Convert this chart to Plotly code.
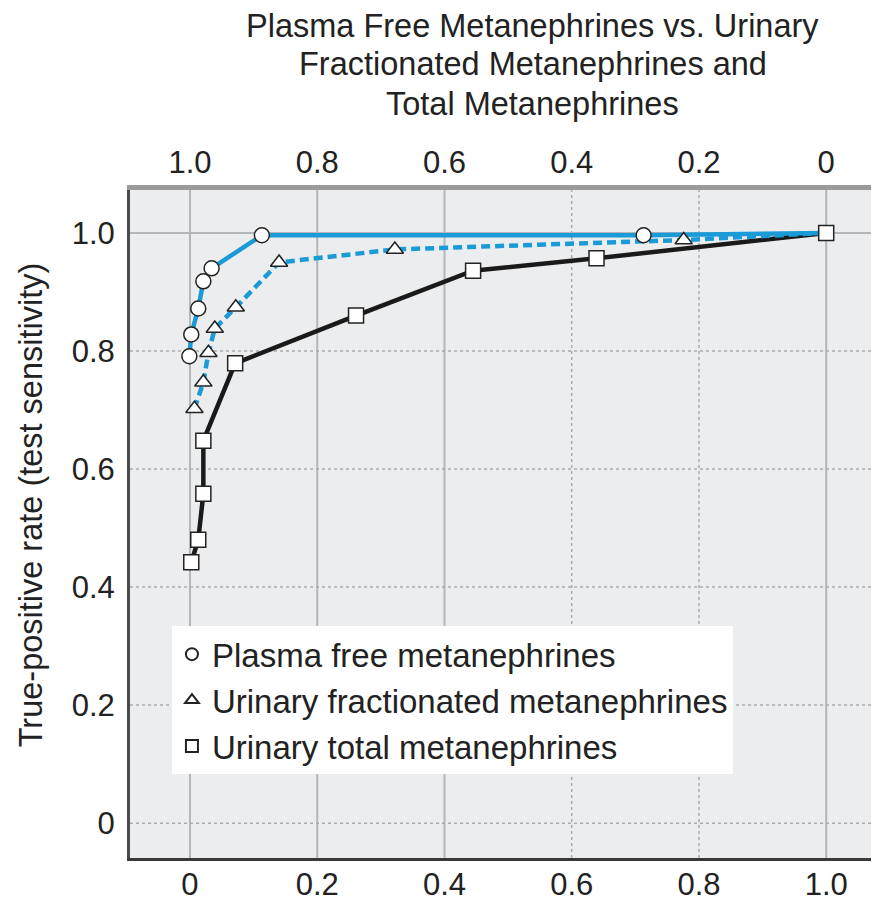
import plotly.graph_objects as go

# ---- data (false-positive rate, true-positive rate) ----
plasma_fpr = [-0.001, 0.002, 0.013, 0.021, 0.034, 0.113, 0.713, 1.0]
plasma_tpr = [0.791, 0.828, 0.872, 0.918, 0.940, 0.996, 0.996, 1.0]

frac_fpr = [0.007, 0.021, 0.029, 0.039, 0.072, 0.140, 0.322, 0.776, 1.0]
frac_tpr = [0.702, 0.747, 0.797, 0.838, 0.874, 0.950, 0.972, 0.988, 1.0]

total_fpr = [0.002, 0.013, 0.021, 0.021, 0.071, 0.261, 0.445, 0.639, 1.0]
total_tpr = [0.442, 0.480, 0.558, 0.648, 0.779, 0.860, 0.936, 0.957, 1.0]

series_names = ["Plasma free metanephrines",
                "Urinary fractionated metanephrines",
                "Urinary total metanephrines"]

x_ticks = [0, 0.2, 0.4, 0.6, 0.8, 1.0]
x_ticktext = ["0", "0.2", "0.4", "0.6", "0.8", "1.0"]
top_ticktext = ["1.0", "0.8", "0.6", "0.4", "0.2", "0"]
y_ticks = [0, 0.2, 0.4, 0.6, 0.8, 1.0]
y_ticktext = ["0", "0.2", "0.4", "0.6", "0.8", "1.0"]

x_grid_dash = ["solid", "solid", "solid", "dot", "dot", "solid"]
y_grid_dash = ["dot", "dot", "dot", "dot", "dot", "solid"]

title_lines = ["Plasma Free Metanephrines vs. Urinary",
               "Fractionated Metanephrines and",
               "Total Metanephrines"]
title_line_y = [1.2455, 1.1886, 1.1287]   # paper y of each title line
ytitle_text = "True-positive rate (test sensitivity)"

# ---- style ----
BLUE = "#1a9ad6"
FONT = "Liberation Sans, Arial, sans-serif"
TXT = "#222222"
FS = 31

fig = go.Figure()

# lines first
fig.add_trace(go.Scatter(x=total_fpr, y=total_tpr, mode="lines",
                         line=dict(color="#1a1a1a", width=4.5),
                         showlegend=False, hoverinfo="skip"))
fig.add_trace(go.Scatter(x=frac_fpr, y=frac_tpr, mode="lines",
                         line=dict(color=BLUE, width=4.5, dash="9px,5px"),
                         showlegend=False, hoverinfo="skip"))
fig.add_trace(go.Scatter(x=plasma_fpr, y=plasma_tpr, mode="lines",
                         line=dict(color=BLUE, width=4.5),
                         showlegend=False, hoverinfo="skip"))

# markers on top
mk_line = dict(color="#222222", width=1.5)
fig.add_trace(go.Scatter(x=plasma_fpr[:-1], y=plasma_tpr[:-1], mode="markers",
                         name=series_names[0],
                         marker=dict(symbol="circle", size=15, color="white", line=mk_line)))
fig.add_trace(go.Scatter(x=frac_fpr[:-1], y=frac_tpr[:-1], mode="markers",
                         name=series_names[1],
                         marker=dict(symbol="triangle-up", size=15, color="white", line=mk_line)))
fig.add_trace(go.Scatter(x=total_fpr, y=total_tpr, mode="markers",
                         name=series_names[2],
                         marker=dict(symbol="square", size=15, color="white", line=mk_line)))

# invisible trace to activate top (specificity) axis
fig.add_trace(go.Scatter(x=[1 - v for v in plasma_fpr], y=plasma_tpr, xaxis="x2",
                         mode="markers", marker=dict(opacity=0),
                         showlegend=False, hoverinfo="skip"))

# gridlines as shapes (mixed solid / dotted like the reference)
shapes = []
for v, d in zip(x_ticks, x_grid_dash):
    shapes.append(dict(type="line", xref="x", yref="paper", x0=v, x1=v, y0=0, y1=1,
                       layer="below",
                       line=dict(color="#b4b6b7" if d == "solid" else "#a9abac",
                                 width=2 if d == "solid" else 1.5, dash=d)))
for v, d in zip(y_ticks, y_grid_dash):
    shapes.append(dict(type="line", xref="paper", yref="y", x0=0, x1=1, y0=v, y1=v,
                       layer="below",
                       line=dict(color="#b4b6b7" if d == "solid" else "#a9abac",
                                 width=2 if d == "solid" else 1.5, dash=d)))

XR = [-0.0943, 1.083]

annotations = [
    dict(text=t, xref="paper", yref="paper", x=0.538, y=yy,
         xanchor="center", yanchor="middle", showarrow=False,
         font=dict(family=FONT, size=32.5, color=TXT))
    for t, yy in zip(title_lines, title_line_y)
]
annotations.append(
    dict(text=ytitle_text, xref="paper", yref="y", x=-0.131, y=0.54,
         xanchor="center", yanchor="middle", textangle=-90, showarrow=False,
         font=dict(family=FONT, size=32.5, color=TXT)))

fig.update_layout(
    width=879, height=901,
    margin=dict(l=122, r=8, t=182, b=51, autoexpand=False),
    paper_bgcolor="white",
    plot_bgcolor="#ecedee",
    font=dict(family=FONT, size=FS, color=TXT),
    shapes=shapes,
    showlegend=True,
    legend=dict(x=0.056, y=0.347, xanchor="left", yanchor="top",
                bgcolor="white", borderwidth=0,
                font=dict(family=FONT, size=33, color=TXT),
                itemsizing="constant", tracegroupgap=0,
                traceorder="normal"),
    xaxis=dict(range=XR, tickvals=x_ticks, ticktext=x_ticktext,
               showgrid=False, zeroline=False, automargin=False,
               showline=True, linecolor="#3a3a3a", linewidth=3,
               ticks="", ticklabelstandoff=-3,
               tickfont=dict(size=FS, color=TXT)),
    xaxis2=dict(range=[1 - XR[0], 1 - XR[1]], overlaying="x", side="top",
                tickvals=[1 - v for v in x_ticks], ticktext=top_ticktext,
                showgrid=False, zeroline=False, automargin=False,
                showline=True, linecolor="#9a9a9a", linewidth=5,
                ticks="", ticklabelstandoff=0,
                tickfont=dict(size=FS, color=TXT)),
    yaxis=dict(range=[-0.059, 1.0727], tickvals=y_ticks, ticktext=y_ticktext,
               showgrid=False, zeroline=False, automargin=False,
               showline=True, linecolor="#4a4a4a", linewidth=3,
               ticks="", ticklabelstandoff=6,
               tickfont=dict(size=FS, color=TXT)),
    annotations=annotations,
)

fig.write_html("out.html")
